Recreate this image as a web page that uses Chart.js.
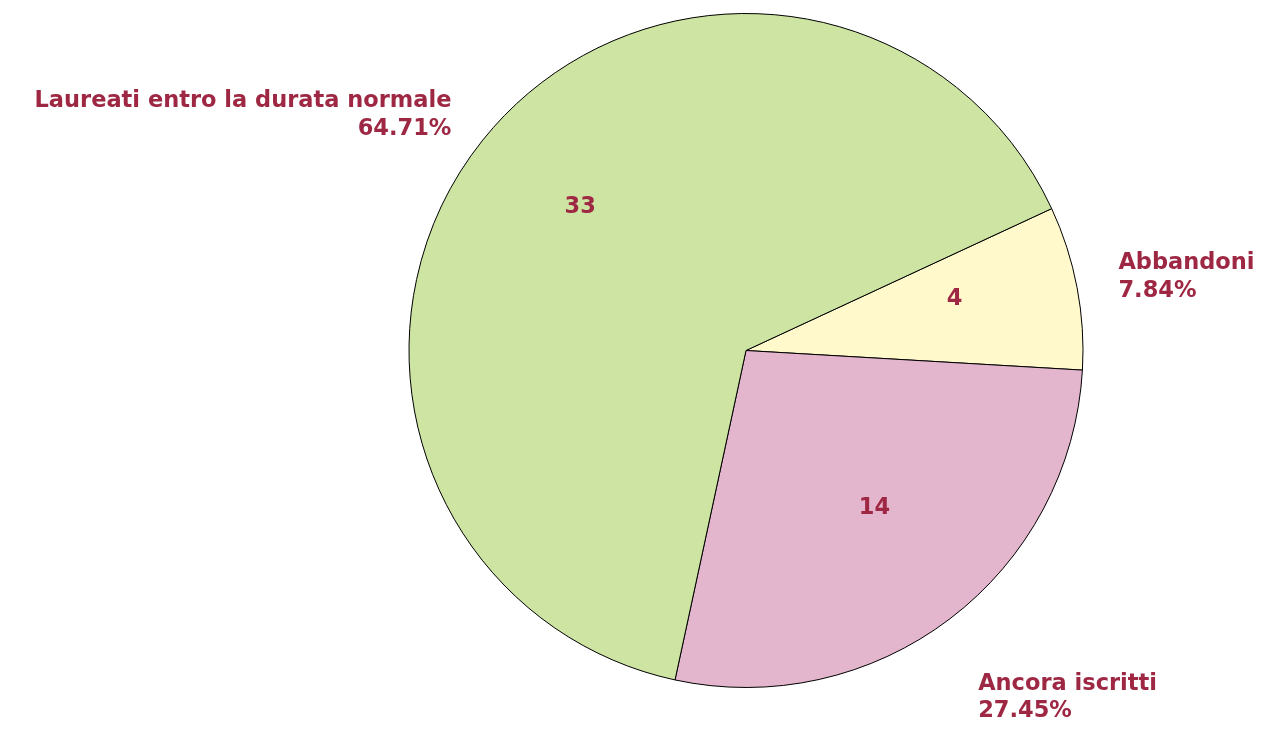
<!DOCTYPE html>
<html>
<head>
<meta charset="utf-8">
<script src="https://cdn.jsdelivr.net/npm/chart.js@4/dist/chart.umd.min.js"></script>
<style>
  html, body { margin: 0; padding: 0; background: #ffffff; }
  #wrap { width: 1271px; height: 731px; position: relative; }
</style>
</head>
<body>
<div id="wrap"><canvas id="esitiPie"></canvas></div>
<script>
// Chart data
const categories = ['Abbandoni', 'Ancora iscritti', 'Laureati entro la durata normale'];
const counts = [4, 14, 33];
const percentLabels = ['7.84%', '27.45%', '64.71%'];
const sliceColors = ['#FFF9CC', '#E4B6CD', '#CDE4A2'];

const textColor = '#9E2843';
const labelFont = 'bold 22.5px "DejaVu Sans", Verdana, sans-serif';

// Small nudges for the outside labels (style only)
const labelNudge = [[-1, -4], [-1, 51], [4, -3]];

/* Draws the value inside each slice and the name + percent outside
*/
const pieLabels = {
    id: 'pieLabels',
    afterDatasetsDraw(chart) {
        const ctx = chart.ctx;
        const meta = chart.getDatasetMeta(0);
        ctx.save();
        ctx.font = labelFont;
        ctx.fillStyle = textColor;

        meta.data.forEach((arc, i) => {
            const p = arc.getProps(['x', 'y', 'startAngle', 'endAngle', 'outerRadius'], true);
            const mid = (p.startAngle + p.endAngle) / 2;
            const cos = Math.cos(mid);
            const sin = Math.sin(mid);

            // value inside
            ctx.textAlign = 'center';
            ctx.textBaseline = 'bottom';
            const ir = p.outerRadius * 0.63;
            ctx.fillText(String(counts[i]), p.x + ir * cos, p.y + ir * sin);

            // name and percent outside
            ctx.textBaseline = 'middle';
            const orad = p.outerRadius + 35;
            let ax = p.x + orad * cos + labelNudge[i][0];
            let ay = p.y + orad * sin + labelNudge[i][1];
            const left = cos >= 0;
            ctx.textAlign = left ? 'left' : 'right';
            ax += left ? 8 : -8;
            const lineH = 27.5;
            ctx.fillText(categories[i], ax, ay - lineH / 2);
            ctx.fillText(percentLabels[i], ax, ay + lineH / 2);
        });
        ctx.restore();
    }
};

const buildPie = () => {
    const data = {
        labels: categories,
        datasets: [{
            data: counts,
            backgroundColor: sliceColors,
            borderColor: '#000000',
            borderWidth: 1
        }]
    };

    const config = {
        type: 'pie',
        data: data,
        options: {
            responsive: true,
            maintainAspectRatio: false,
            animation: false,
            rotation: 65.1,
            layout: { padding: { top: 13, bottom: 43, left: 408, right: 187 } },
            plugins: {
                legend: { display: false },
                tooltip: { enabled: false }
            }
        },
        plugins: [pieLabels]
    };

    const ctx = document.getElementById('esitiPie').getContext('2d');
    new Chart(ctx, config);
};

document.addEventListener('DOMContentLoaded', () => {
    buildPie();
});
</script>
</body>
</html>
